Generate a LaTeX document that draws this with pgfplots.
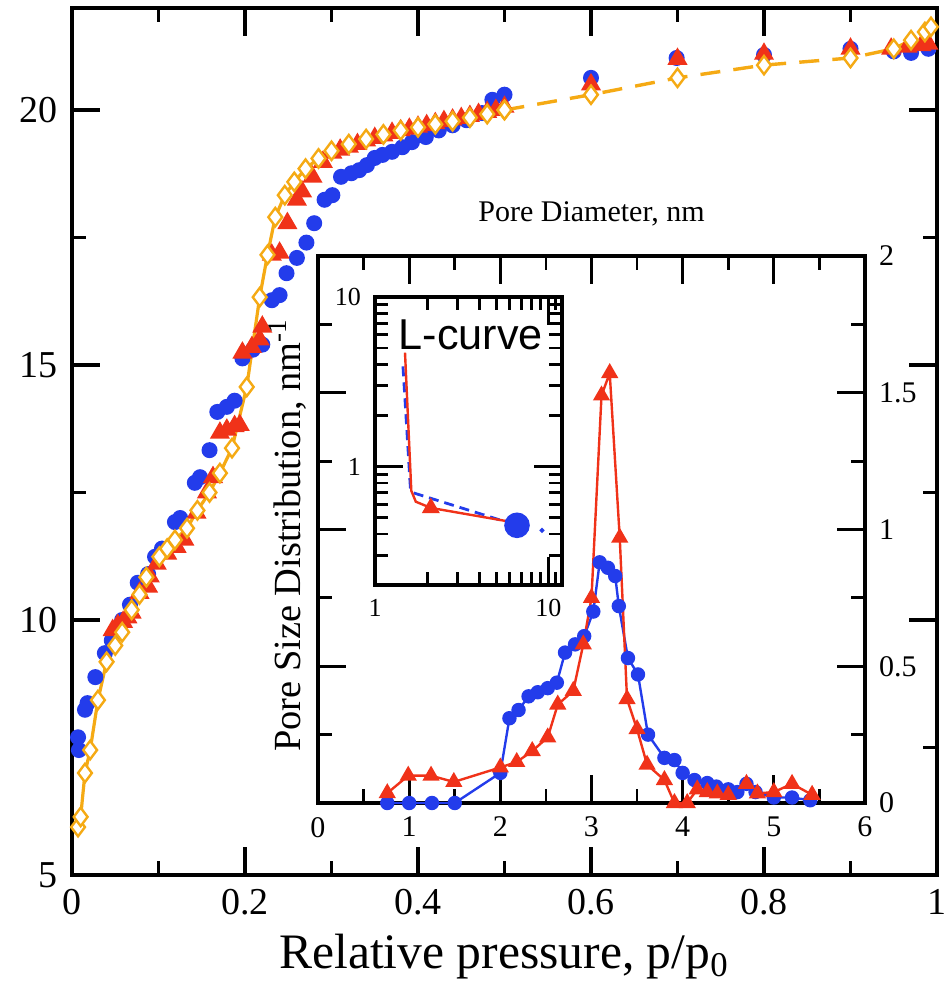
\documentclass[border=0pt]{standalone}
\usepackage{pgfplots}
\pgfplotsset{compat=1.18}
\usepackage{fontspec}
\setmainfont{Liberation Serif}
\newfontfamily\lcfont{Liberation Sans}
\definecolor{pblue}{RGB}{35,60,235}
\definecolor{pred}{RGB}{240,50,25}
\definecolor{porange}{RGB}{245,170,20}

\pgfplotstableread{
x y
0.007 7.7
0.008 7.45
0.015 8.24
0.018 8.37
0.027 8.88
0.038 9.35
0.046 9.6
0.058 10.0
0.067 10.3
0.076 10.73
0.088 10.9
0.096 11.24
0.104 11.4
0.119 11.92
0.125 12.0
0.142 12.69
0.148 12.8
0.159 13.33
0.168 14.08
0.179 14.18
0.188 14.3
0.197 15.13
0.209 15.3
0.22 15.4
0.231 16.27
0.24 16.37
0.248 16.8
0.26 17.1
0.271 17.4
0.28 17.78
0.292 18.24
0.301 18.33
0.311 18.69
0.323 18.76
0.332 18.82
0.341 18.92
0.35 19.06
0.359 19.12
0.37 19.18
0.382 19.27
0.393 19.37
0.409 19.47
0.424 19.6
0.44 19.7
0.456 19.8
0.474 19.94
0.486 20.2
0.5 20.3
0.6 20.63
0.699 21.02
0.8 21.08
0.9 21.2
0.95 21.15
0.97 21.12
0.99 21.2
}\blueiso

\pgfplotstableread{
x y
0.047 9.8
0.053 9.9
0.059 9.96
0.064 10.05
0.069 10.14
0.078 10.53
0.088 10.65
0.09 10.85
0.098 11.1
0.11 11.3
0.121 11.43
0.13 11.57
0.144 12.1
0.156 12.5
0.163 12.8
0.171 13.67
0.179 13.73
0.188 13.8
0.194 13.82
0.197 15.24
0.208 15.35
0.217 15.5
0.22 15.75
0.231 17.16
0.24 17.2
0.249 17.78
0.26 18.24
0.266 18.4
0.278 18.69
0.29 18.98
0.301 19.16
0.31 19.22
0.32 19.28
0.33 19.33
0.34 19.4
0.35 19.45
0.36 19.5
0.37 19.55
0.38 19.6
0.39 19.63
0.40 19.67
0.41 19.7
0.42 19.74
0.43 19.78
0.44 19.81
0.45 19.84
0.46 19.88
0.47 19.92
0.48 19.96
0.49 20.0
0.5 20.06
0.6 20.5
0.7 21.0
0.8 21.1
0.9 21.2
0.947 21.2
0.966 21.24
0.982 21.27
0.99 21.3
}\rediso

\pgfplotstableread{
x y
0.007 5.94
0.010 6.14
0.015 7.0
0.021 7.45
0.030 8.43
0.040 9.18
0.050 9.5
0.058 9.76
0.069 10.2
0.078 10.5
0.086 10.84
0.101 11.24
0.110 11.4
0.119 11.57
0.133 11.8
0.145 12.15
0.159 12.5
0.171 12.88
0.185 13.37
0.202 14.57
0.217 16.33
0.226 17.16
0.235 17.9
0.246 18.33
0.257 18.59
0.27 18.85
0.285 19.05
0.30 19.2
0.32 19.33
0.34 19.43
0.36 19.52
0.38 19.6
0.40 19.66
0.42 19.72
0.44 19.78
0.46 19.85
0.48 19.92
0.50 20.0
}\orangeA

\pgfplotstableread{
x y
0.50 20.0
0.6 20.3
0.7 20.63
0.8 20.88
0.9 21.02
0.95 21.2
0.97 21.37
0.986 21.53
0.993 21.63
}\orangeB

\pgfplotstableread{
x y
0.76 0.036
0.99 0.10
1.24 0.10
1.49 0.077
2.0 0.13
2.18 0.15
2.35 0.19
2.52 0.24
2.63 0.36
2.8 0.41
2.91 0.58
3.0 0.75
3.11 1.49
3.2 1.572
3.31 0.97
3.39 0.38
3.5 0.27
3.61 0.14
3.8 0.084
3.91 0.0
4.05 0.0
4.16 0.05
4.27 0.04
4.38 0.035
4.5 0.03
4.7 0.07
4.82 0.035
5.0 0.04
5.2 0.07
5.42 0.03
}\redpsd

\pgfplotstableread{
x y
0.76 0
1.0 0
1.25 0
1.5 0
2.0 0.11
2.1 0.31
2.2 0.34
2.31 0.39
2.41 0.405
2.52 0.42
2.62 0.44
2.71 0.55
2.82 0.58
2.92 0.61
3.02 0.70
3.09 0.88
3.18 0.86
3.26 0.83
3.3 0.72
3.4 0.53
3.51 0.47
3.62 0.25
3.8 0.165
3.91 0.157
4.0 0.11
4.13 0.084
4.27 0.073
4.37 0.06
4.5 0.05
4.6 0.04
4.7 0.07
4.8 0.04
5.0 0.02
5.2 0.02
5.4 0.01
}\bluepsd

\begin{document}
\begin{tikzpicture}
% ---------------- main isotherm axis ----------------
\begin{axis}[
  at={(0,0)}, anchor=south west,
  scale only axis, width=216.25pt, height=216.75pt,
  xmin=0, xmax=1, ymin=5, ymax=22,
  xtick={0,0.2,0.4,0.6,0.8,1}, xticklabels={0,0.2,0.4,0.6,0.8,1},
  minor xtick={0.1,0.3,0.5,0.7,0.9},
  ytick={5,10,15,20}, yticklabels={5,10,15,20},
  minor ytick={7.5,12.5,17.5},
  tick align=inside,
  major tick length=7pt, minor tick length=3.5pt,
  every tick/.style={black, line width=0.8pt},
  axis line style={line width=1pt},
  ticklabel style={font=\fontsize{9.5}{11}\selectfont},
  xlabel={Relative pressure, p/p\textsubscript{0}},
  xlabel style={font=\fontsize{12.4}{14}\selectfont, yshift=2pt},
  clip=false,
]
\addplot[only marks, mark=*, mark size=1.8pt, color=pblue] table {\blueiso};
\addplot[only marks, mark=triangle*, mark size=2.5pt, color=pred] table {\rediso};
\addplot[color=porange, line width=0.8pt, mark=diamond*, mark size=2.3pt,
  mark options={solid, fill=white, draw=porange, line width=0.6pt}] table {\orangeA};
\addplot[color=porange, line width=0.85pt, dash pattern=on 5pt off 3.3pt, mark=diamond*, mark size=2.3pt,
  mark options={solid, fill=white, draw=porange, line width=0.6pt}] table {\orangeB};
\end{axis}

% ---------------- inset: pore size distribution ----------------
\begin{axis}[
  at={(61.5pt,18pt)}, anchor=south west,
  scale only axis, width=136.75pt, height=136.75pt,
  xmin=0, xmax=6, ymin=0, ymax=2,
  xtick={0,1,2,3,4,5,6}, xticklabels={0,1,2,3,4,5,6},
  minor xtick={0.5,1.5,2.5,3.5,4.5,5.5},
  ytick={0,0.5,1,1.5,2}, yticklabels={0,0.5,1,1.5,2},
  minor ytick={0.25,0.75,1.25,1.75},
  yticklabel pos=right,
  tick align=inside,
  major tick length=7pt, minor tick length=3.5pt,
  every tick/.style={black, line width=0.7pt},
  axis line style={line width=0.8pt},
  ticklabel style={font=\fontsize{7.5}{9}\selectfont},
  xlabel={Pore Diameter, nm},
  every axis x label/.style={at={(axis description cs:0.5,1)}, anchor=south, yshift=4pt, font=\fontsize{7.5}{9}\selectfont},
  ylabel={Pore Size Distribution, nm\textsuperscript{-1}},
  every axis y label/.style={at={(axis description cs:0.005,0.49)}, rotate=90, anchor=south, font=\fontsize{9.6}{11}\selectfont},
  clip=false,
]
\addplot[color=pblue, line width=0.6pt, mark=*, mark size=1.5pt] table {\bluepsd};
\addplot[color=pred, line width=0.6pt, mark=triangle*, mark size=1.9pt] table {\redpsd};
\end{axis}

% ---------------- inner inset: L-curve ----------------
\begin{axis}[
  at={(75.75pt,72.5pt)}, anchor=south west,
  scale only axis, width=46.75pt, height=72pt,
  xmode=log, ymode=log,
  xmin=1, xmax=12, ymin=0.2, ymax=10,
  xtick={1,10}, xticklabels={1,10},
  ytick={1,10}, yticklabels={1,10},
  minor xtick={2,3,4,5,6,7,8,9,11,12},
  minor ytick={0.2,0.3,0.4,0.5,0.6,0.7,0.8,0.9,2,3,4,5,6,7,8,9},
  tick align=inside,
  major tick length=7pt, minor tick length=3.2pt,
  every tick/.style={black, line width=0.7pt},
  axis line style={line width=0.8pt},
  axis background/.style={fill=white},
  ticklabel style={font=\fontsize{6.5}{8}\selectfont},
  clip=false,
]
\addplot[color=pblue, line width=0.7pt, dash pattern=on 2.5pt off 1.5pt] coordinates {(1.45,3.9) (1.60,0.75) (1.66,0.70) (6.6,0.45)};
\addplot[color=pred, line width=0.6pt] coordinates {(1.49,4.7) (1.62,0.72) (1.72,0.62) (2.1,0.57) (6.2,0.47)};
\addplot[only marks, mark=triangle*, mark size=2.2pt, color=pred] coordinates {(2.1,0.57)};
\addplot[only marks, mark=*, mark size=3pt, color=pblue] coordinates {(6.6,0.45)};
\addplot[only marks, mark=*, mark size=0.4pt, color=pblue] coordinates {(9.2,0.42)};
\node[anchor=base west, inner sep=0pt, font=\lcfont\fontsize{10.8}{12}\selectfont] at (rel axis cs:0.123,0.816) {L-curve};
\end{axis}

\pgfresetboundingbox
\path (-18pt,-28pt) rectangle (219pt,218.75pt);
\end{tikzpicture}
\end{document}
